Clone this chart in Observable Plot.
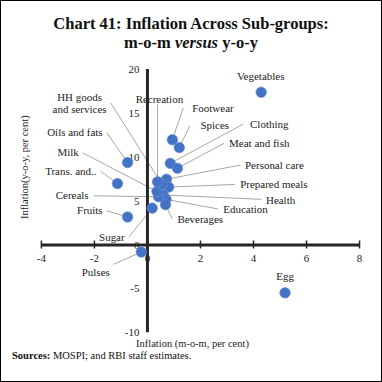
<!DOCTYPE html>
<html>
<head>
<meta charset="utf-8">
<script src="https://cdn.jsdelivr.net/npm/d3@7"></script>
<script src="https://cdn.jsdelivr.net/npm/@observablehq/plot@0.6"></script>
<style>
  body { margin: 0; background: #fff; }
  #frame { position: relative; width: 382px; height: 382px; box-sizing: border-box; border: 1px solid #000; overflow: hidden; background:#fff; }
  #title { position: absolute; top: 13px; left: 0; width: 100%; text-align: center; font: bold 16.5px "Liberation Serif", serif; line-height: 19px; color: #111; }
  #chart { position: absolute; top: 55px; left: -1px; }
  #src { position: absolute; top: 349px; left: 11px; font: 10.5px "Liberation Serif", serif; color: #111; }
</style>
</head>
<body>
<div id="frame">
  <div id="title">Chart 41: Inflation Across Sub-groups:<br>m-o-m <i>versus</i> y-o-y</div>
  <div id="chart"></div>
  <div id="src"><b>Sources:</b> MOSPI; and RBI staff estimates.</div>
</div>
<script>
// Sub-groups and their inflation rates (per cent)
const categories = ["Vegetables", "Egg", "Footwear", "Spices", "Clothing", "Meat and fish",
  "Personal care", "Prepared meals", "Health", "Education", "Beverages", "Sugar", "Pulses",
  "Fruits", "Cereals", "Trans. and..", "Milk", "Oils and fats", "HH goods\nand services", "Recreation"];
const mom = [4.29, 5.19, 0.94, 1.2, 0.86, 1.13, 0.72, 0.8, 0.6, 0.7, 0.68, 0.18, -0.23,
  -0.75, 0.42, -1.13, 0.36, -0.75, 0.55, 0.38];
const yoy = [17.4, -5.45, 12.0, 11.1, 9.3, 8.75, 7.5, 6.6, 5.7, 5.2, 4.6, 4.2, -0.8,
  3.2, 5.5, 7.0, 6.1, 9.4, 6.9, 7.2];

// Axis tick values
const xTicks = [-4, -2, 0, 2, 4, 6, 8];
const yTicks = [-10, -5, 0, 5, 10, 15, 20];

// Annotation placement (data units): label anchor, text anchor, leader-line start
const labelX = [4.27, 5.19, 1.69, 2.0, 3.87, 3.08, 3.68, 3.5, 4.47, 2.86, 1.13, -0.86, -1.95,
  -1.69, -2.22, -1.92, -2.59, -1.69, -2.56, 0.45];
const labelY = [19.2, -3.6, 15.6, 13.6, 13.75, 11.6, 9.1, 6.9, 5.1, 4.0, 2.95, 0.9, -3.1,
  3.9, 5.6, 8.4, 10.5, 12.8, 16.2, 16.6];
const labelAnchor = ["middle", "middle", "start", "start", "start", "start", "start", "start",
  "start", "start", "start", "end", "middle", "end", "end", "end", "end", "end", "middle", "middle"];
const leaderX = [null, null, 1.35, 1.6, 3.6, 2.9, 3.5, 3.3, 4.3, 2.67, 0.94, -0.71, -1.28,
  -1.54, -2.03, -1.77, -2.44, -1.54, -1.39, 0.38];
const leaderY = [null, null, 15.6, 13.6, 13.75, 11.6, 9.1, 6.9, 5.2, 4.1, 2.95, 0.9, -2.2,
  3.9, 5.6, 8.4, 10.5, 12.8, 16.2, 16.0];

const data = categories.map((c, i) => ({
  name: c, x: mom[i], y: yoy[i], lx: labelX[i], ly: labelY[i],
  anchor: labelAnchor[i], sx: leaderX[i], sy: leaderY[i]
}));
const leaders = data.filter(d => d.sx !== null);
const font = "Liberation Serif, serif";

const plot = Plot.plot({
  width: 382,
  height: 300,
  marginTop: 13,
  marginBottom: 23,
  marginLeft: 41,
  marginRight: 22,
  style: { fontFamily: font, fontSize: "11px", color: "#222", background: "transparent" },
  x: { domain: [-4, 8], axis: null },
  y: { domain: [-10, 20], axis: null },
  marks: [
    // leader lines
    Plot.link(leaders, { x1: "sx", y1: "sy", x2: "x", y2: "y", stroke: "#a6a6a6", strokeWidth: 1 }),
    // axes crossing at zero
    Plot.ruleY([0], { x1: -4, x2: 8, stroke: "#262626", strokeWidth: 3 }),
    Plot.ruleX([0], { y1: -10, y2: 20, stroke: "#262626", strokeWidth: 3 }),
    Plot.ruleX(xTicks, { x: d => d, y1: 0, y2: 0, insetTop: -4, insetBottom: -4, stroke: "#262626", strokeWidth: 1.5 }),
    Plot.text(xTicks, { x: d => d, y: 0, dy: 14, text: d => String(d), fontSize: 11, fill: "#222" }),
    Plot.text(yTicks, { x: 0, y: d => d, dx: -8, text: d => String(d), textAnchor: "end", fontSize: 11, fill: "#222" }),
    // axis titles
    Plot.text(["Inflation (m-o-m, per cent)"], { frameAnchor: "bottom", dx: -8, dy: 14, fontSize: 10.5, fill: "#222" }),
    Plot.text(["Inflation(y-o-y, per cent)"], { frameAnchor: "left", rotate: -90, textAnchor: "middle", dx: -17, dy: -34, fontSize: 10.5, fill: "#222" }),
    // points
    Plot.dot(data, { x: "x", y: "y", r: 5.3, fill: "#4472c4", stroke: "#6a8fd4", strokeWidth: 0.6 }),
    // labels
    Plot.text(data.filter(d => d.anchor === "start"), { x: "lx", y: "ly", text: "name", textAnchor: "start", fontSize: 11, fill: "#222" }),
    Plot.text(data.filter(d => d.anchor === "end"), { x: "lx", y: "ly", text: "name", textAnchor: "end", fontSize: 11, fill: "#222" }),
    Plot.text(data.filter(d => d.anchor === "middle"), { x: "lx", y: "ly", text: "name", textAnchor: "middle", fontSize: 11, fill: "#222", lineHeight: 1.1 })
  ]
});
document.getElementById("chart").appendChild(plot);
</script>
</body>
</html>
